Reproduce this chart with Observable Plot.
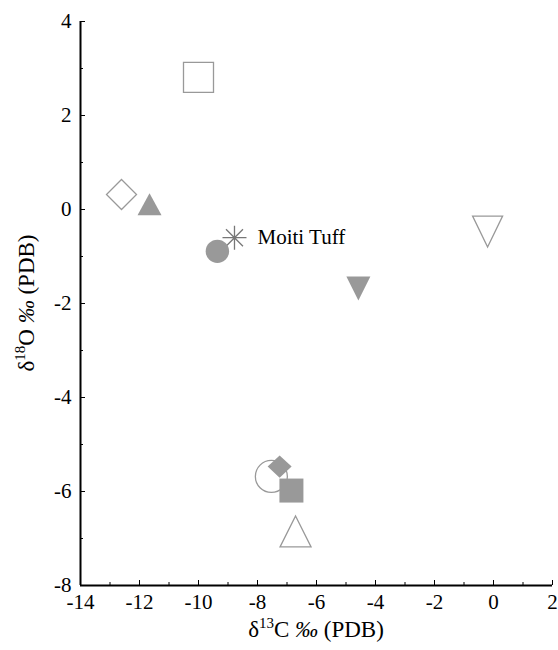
<!DOCTYPE html>
<html><head><meta charset="utf-8">
<script src="https://cdn.jsdelivr.net/npm/d3@7"></script>
<script src="https://cdn.jsdelivr.net/npm/@observablehq/plot@0.6"></script>
<style>body{margin:0;background:#fff}</style>
</head><body><div id="chart"></div>
<script>
// ---- data ----
const sampleIds   = ["S1","S2","S3","Moiti","S5","S6","S7","S8","S9","S10","S11"];
const d13C        = [-10.0, -12.61, -11.66, -8.78, -9.36, -0.2, -4.58, -7.53, -7.25, -6.85, -6.71];
const d18O        = [2.81, 0.32, 0.11, -0.60, -0.89, -0.47, -1.68, -5.68, -5.47, -5.98, -6.85];
const markerShape = ["square","diamond","triangleUp","asterisk","circle","triangleDown","triangleDown","circle","diamond","square","triangleUp"];
const markerStyle = ["open","open","filled","line","filled","open","filled","open","filled","filled","open"];
const annotations = [{id: "Moiti", text: "Moiti Tuff"}];
const xTicks = [-14,-12,-10,-8,-6,-4,-2,0,2];
const yTicks = [-8,-6,-4,-2,0,2,4];
const xMinor = [-13,-11,-9,-7,-5,-3,-1,1];
const yMinor = [-7,-5,-3,-1,1,3];

// ---- styling ----
const W = 558, H = 650, mL = 80, mR = 6, mT = 21, mB = 65;
const frameW = W - mL - mR, frameH = H - mT - mB;
const gray = "#999999";
const font = "'Liberation Serif', 'Times New Roman', serif";

function sym(fn){ return {draw(c){ fn(c); }}; }
const sizes = {
  open:   {square: 30, diamond: 15, triangleUp: [31,31], triangleDown: [30,31], circle: 16},
  filled: {square: 24, diamond: 12, triangleUp: [24,22], triangleDown: [24,24], circle: 11.7},
  line:   {asterisk: 12}
};
function makeSymbol(shape, style){
  const s = sizes[style][shape];
  switch(shape){
    case "square": return sym(c=>{const h=s/2;c.moveTo(-h,-h);c.lineTo(h,-h);c.lineTo(h,h);c.lineTo(-h,h);c.closePath();});
    case "diamond": return sym(c=>{const hx=s,hy=style==="filled"?s*0.93:s;c.moveTo(0,-hy);c.lineTo(hx,0);c.lineTo(0,hy);c.lineTo(-hx,0);c.closePath();});
    case "triangleUp": return sym(c=>{const [w,h]=s;c.moveTo(0,-h/2);c.lineTo(w/2,h/2);c.lineTo(-w/2,h/2);c.closePath();});
    case "triangleDown": return sym(c=>{const [w,h]=s;c.moveTo(0,h/2);c.lineTo(w/2,-h/2);c.lineTo(-w/2,-h/2);c.closePath();});
    case "circle": return sym(c=>{c.moveTo(s,0);c.arc(0,0,s,0,2*Math.PI);c.closePath();});
    case "asterisk": return sym(c=>{for(let i=0;i<4;i++){const a=i*Math.PI/4;c.moveTo(-s*Math.cos(a),-s*Math.sin(a));c.lineTo(s*Math.cos(a),s*Math.sin(a));}});
  }
}

const rows = sampleIds.map((id,i)=>({id, x:d13C[i], y:d18O[i], shape:markerShape[i], style:markerStyle[i]}));
const order = {open:0, line:1, filled:2};
const sorted = rows.slice().sort((a,b)=>order[a.style]-order[b.style]);

const pointMarks = sorted.map(r => Plot.dot([r], {
  x: "x", y: "y", r: 5,
  symbol: makeSymbol(r.shape, r.style),
  fill: r.style === "filled" ? gray : "none",
  stroke: r.style === "filled" ? "none" : (r.style === "line" ? "#777" : gray),
  strokeWidth: r.style === "line" ? 1.3 : 1.3
}));

const annRows = annotations.map(a => { const r = rows.find(d=>d.id===a.id); return {x:r.x, y:r.y, text:a.text}; });

const chart = Plot.plot({
  width: W, height: H,
  marginLeft: mL, marginRight: mR, marginTop: mT, marginBottom: mB,
  style: {fontFamily: font, fontSize: "21px", background: "white", color: "black"},
  x: {domain: [-14, 2], axis: null},
  y: {domain: [-8, 4], axis: null},
  marks: [
    Plot.axisX({ticks: xTicks, tickSize: 0, tickPadding: 9, tickFormat: d => String(d), fontSize: 21, label: null}),
    Plot.axisY({ticks: yTicks, tickSize: 0, tickPadding: 9, tickFormat: d => String(d), fontSize: 21, label: null}),
    Plot.tickY(yTicks, {y: d => d, insetRight: frameW - 5, stroke: "black", strokeWidth: 1}),
    Plot.tickY(yMinor, {y: d => d, insetRight: frameW - 3, stroke: "black", strokeWidth: 1}),
    Plot.tickX(xTicks, {x: d => d, insetTop: frameH - 5, stroke: "black", strokeWidth: 1}),
    Plot.tickX(xMinor, {x: d => d, insetTop: frameH - 3, stroke: "black", strokeWidth: 1}),
    Plot.ruleX([-14], {stroke: "black", strokeWidth: 2}),
    Plot.ruleY([-8], {stroke: "black", strokeWidth: 2}),
    ...pointMarks,
    Plot.text(annRows, {x: "x", y: "y", text: "text", dx: 23, textAnchor: "start", fontSize: 21, fill: "black"})
  ]
});
document.getElementById("chart").appendChild(chart);

// axis titles with superscripts
const svg = d3.select(chart);
function title(sel, iso){
  sel.style("font-family", font).style("font-size", "23px").attr("fill", "black");
  sel.append("tspan").text("δ");
  sel.append("tspan").attr("dy", -9).style("font-size", "15px").text(iso[0]);
  sel.append("tspan").attr("dy", 9).text(iso[1] + " ");
  sel.append("tspan").style("font-style", "italic").text("‰");
  sel.append("tspan").text(" (PDB)");
}
title(svg.append("text").attr("text-anchor", "middle").attr("x", mL + frameW/2).attr("y", 637), ["13", "C"]);
title(svg.append("text").attr("text-anchor", "middle").attr("transform", `translate(34,${mT + frameH/2}) rotate(-90)`), ["18", "O"]);
</script>
</body></html>
